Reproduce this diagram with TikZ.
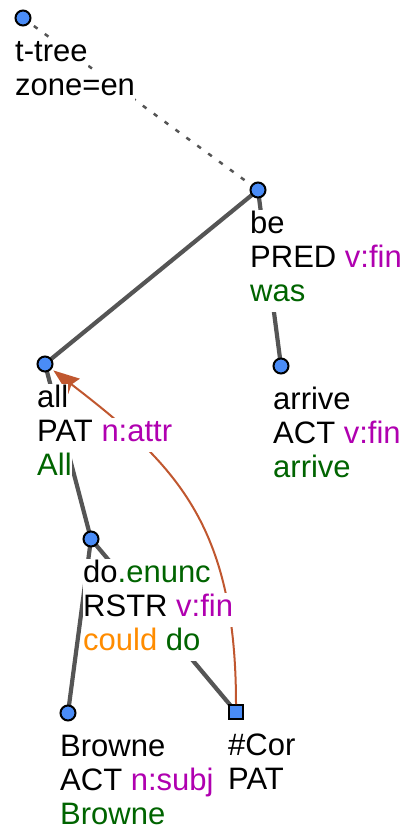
\documentclass[tikz,border=0pt]{standalone}
\usepackage{fontspec}
\setmainfont{Liberation Sans}
\usetikzlibrary{arrows.meta, backgrounds}

\definecolor{nodeblue}{HTML}{4A8CF7}
\definecolor{edgegray}{HTML}{555555}
\definecolor{corefred}{HTML}{C0572F}
\definecolor{frmcol}{HTML}{B000B0}
\definecolor{tokcol}{HTML}{006400}
\definecolor{auxcol}{HTML}{FF8C00}

% one label line on a white strip
\newcommand{\tline}[1]{{\setlength{\fboxsep}{0pt}\colorbox{white}{\strut #1}}}
\newcommand{\frm}[1]{\textcolor{frmcol}{#1}}
\newcommand{\tok}[1]{\textcolor{tokcol}{#1}}
\newcommand{\auxw}[1]{\textcolor{auxcol}{#1}}

\begin{document}
\begin{tikzpicture}[
    x=1pt, y=-1pt,
    tnode/.style={circle, draw=black, line width=2pt, fill=nodeblue,
                  minimum size=15pt, inner sep=0pt},
    cnode/.style={tnode, rectangle, minimum size=14pt},
    lbl/.style={anchor=north west, inner sep=0pt, align=left,
                font=\fontsize{31}{34}\selectfont},
    edge/.style={line width=4.2pt, draw=edgegray},
    dotedge/.style={line width=2.5pt, draw=edgegray, dash pattern=on 4.5pt off 9pt},
    coref/.style={-{Stealth[length=26pt, width=19pt, inset=3pt]}, line width=2pt,
                  draw=corefred, shorten >=2pt}
]
\useasboundingbox (0,0) rectangle (414,834);

% tree nodes
\node[tnode] (root) at (23,18) {};
\node[tnode] (be) at (258,190) {};
\node[tnode] (all) at (45,364) {};
\node[tnode] (arrive) at (281,366) {};
\node[tnode] (do) at (91,539) {};
\node[tnode] (browne) at (68,713) {};
\node[cnode] (cor) at (236,712) {};

% Edges
\begin{pgfonlayer}{background}
\draw[dotedge] (root.center) -- (be.center);
\draw[edge] (be.center) -- (all.center);
\draw[edge] (be.center) -- (arrive.center);
\draw[edge] (all.center) -- (do.center);
\draw[edge] (do.center) -- (browne.center);
\draw[edge] (do.center) -- (cor.center);
\end{pgfonlayer}

% coreference
\draw[coref] (cor.north) .. controls +(0,-180) and +(130,100) .. (all);

% Labels
\node[lbl] (lroot) at ([shift={(-8,19.7)}]root.center)
    {\tline{t-tree}\\\tline{zone=en}};
\node[lbl] (lbe) at ([shift={(-8,19.7)}]be.center)
    {\tline{be}\\\tline{PRED \frm{v:fin}}\\\tline{\tok{was}}};
\node[lbl] (lall) at ([shift={(-8,19.7)}]all.center)
    {\tline{all}\\\tline{PAT \frm{n:attr}}\\\tline{\tok{All}}};
\node[lbl] (larrive) at ([shift={(-8,19.7)}]arrive.center)
    {\tline{arrive}\\\tline{ACT \frm{v:fin}}\\\tline{\tok{arrive}}};
\node[lbl] (ldo) at ([shift={(-8,19.7)}]do.center)
    {\tline{do\tok{.enunc}}\\\tline{RSTR \frm{v:fin}}\\\tline{\auxw{could} \tok{do}}};
\node[lbl] (lbrowne) at ([shift={(-8,19.7)}]browne.center)
    {\tline{Browne}\\\tline{ACT \frm{n:subj}}\\\tline{\tok{Browne}}};
\node[lbl] (lcor) at ([shift={(-8,19.7)}]cor.center)
    {\tline{\#Cor}\\\tline{PAT}};

\end{tikzpicture}
\end{document}
